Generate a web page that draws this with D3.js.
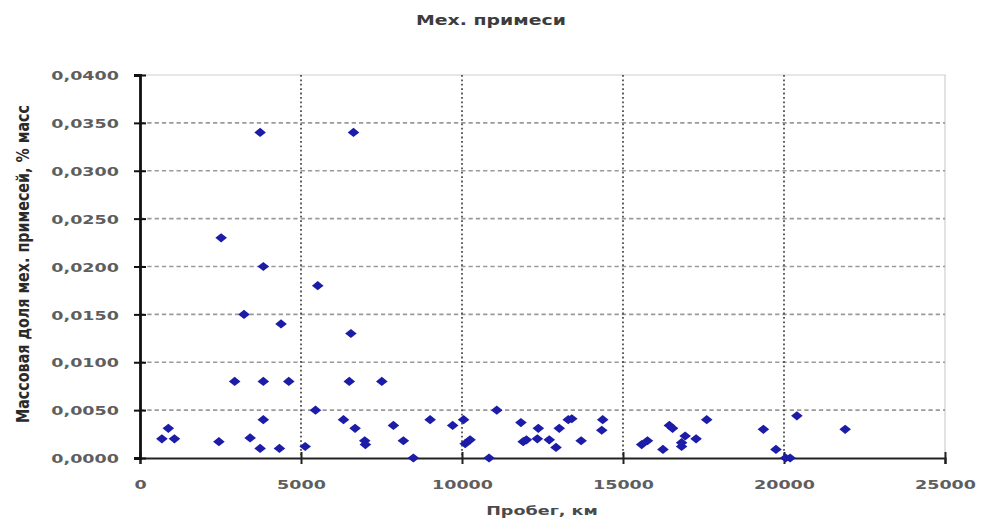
<!DOCTYPE html>
<html>
<head>
<meta charset="utf-8">
<script src="https://cdn.jsdelivr.net/npm/d3@7"></script>
<style>
  html, body { margin: 0; padding: 0; background: #fff; }
  svg { display: block; }
  text { font-family: "DejaVu Sans", Verdana, sans-serif; font-weight: bold; }
</style>
</head>
<body>
<svg id="chart" width="986" height="522"></svg>
<script>
// Пробег, км
const mileage = [
  680, 880, 1070, 2450, 2520, 2940, 3230, 3420, 3730, 3730,
  3830, 3830, 3830, 4330, 4380, 4620, 5130, 5450, 5520, 6320,
  6500, 6550, 6630, 6680, 6980, 7000, 7510, 7870, 8180, 8490,
  9010, 9710, 10050, 10100, 10250, 10840, 11080, 11830, 11900, 12000,
  12340, 12370, 12710, 12920, 13020, 13300, 13410, 13700, 14340, 14370,
  15580, 15760, 16240, 16440, 16540, 16820, 16820, 16930, 17270, 17600,
  19360, 19750, 20050, 20190, 20400, 21900
];
// Массовая доля мех. примесей, % масс
const impurity = [
  0.0020, 0.0031, 0.0020, 0.0017, 0.0230, 0.0080, 0.0150, 0.0021, 0.0340, 0.0010,
  0.0200, 0.0080, 0.0040, 0.0010, 0.0140, 0.0080, 0.0012, 0.0050, 0.0180, 0.0040,
  0.0080, 0.0130, 0.0340, 0.0031, 0.0018, 0.0014, 0.0080, 0.0034, 0.0018, 0.0000,
  0.0040, 0.0034, 0.0040, 0.0015, 0.0019, 0.0000, 0.0050, 0.0037, 0.0017, 0.0019,
  0.0020, 0.0031, 0.0019, 0.0011, 0.0031, 0.0040, 0.0041, 0.0018, 0.0029, 0.0040,
  0.0014, 0.0018, 0.0009, 0.0034, 0.0031, 0.0012, 0.0016, 0.0023, 0.0020, 0.0040,
  0.0030, 0.0009, 0.0000, 0.0000, 0.0044, 0.0030
];
const xTicks = [0, 5000, 10000, 15000, 20000, 25000];
const yTicks = [0, 0.005, 0.010, 0.015, 0.020, 0.025, 0.030, 0.035, 0.040];
const titleText = "Мех. примеси";
const xTitle = "Пробег, км";
const yTitle = "Массовая доля мех. примесей, % масс";

const svg = d3.select("#chart");
const SX = 1.35; // horizontal widening of the lettering

const x = d3.scaleLinear().domain([0, 25000]).range([140, 945]);
const y = d3.scaleLinear().domain([0, 0.04]).range([458, 75]);

// plot frame (top and right)
svg.append("path")
  .attr("d", `M${x(0)},${y(0.04)}H${x(25000)}V${y(0)}`)
  .attr("fill", "none").attr("stroke", "#cfcfcf").attr("stroke-width", 1.2);

// horizontal dashed grid
svg.append("g").selectAll("line")
  .data(yTicks.filter(v => v > 0 && v < 0.04))
  .join("line")
  .attr("x1", x(0)).attr("x2", x(25000))
  .attr("y1", d => y(d)).attr("y2", d => y(d))
  .attr("stroke", "#9a9a9a").attr("stroke-width", 1.6)
  .attr("stroke-dasharray", "4.3,3");

// vertical dotted grid
svg.append("g").selectAll("line")
  .data(xTicks.filter(v => v > 0 && v < 25000))
  .join("line")
  .attr("x1", d => x(d)).attr("x2", d => x(d))
  .attr("y1", y(0.04)).attr("y2", y(0))
  .attr("stroke", "#3a3a3a").attr("stroke-width", 1.6)
  .attr("stroke-dasharray", "1.8,2.6");

// x axis
const fmtX = d => String(d);
const gx = svg.append("g")
  .attr("transform", `translate(0,${y(0)})`)
  .call(d3.axisBottom(x).tickValues(xTicks).tickFormat(fmtX).tickSize(6).tickPadding(0));
gx.select(".domain").attr("stroke", "#222").attr("stroke-width", 2.2);
gx.selectAll(".tick line").attr("y1", -6).attr("y2", 6).attr("stroke", "#222").attr("stroke-width", 2);
gx.selectAll(".tick text")
  .attr("y", 0).attr("dy", null)
  .attr("transform", `translate(0,31) scale(${SX},1)`)
  .attr("font-size", 13).attr("fill", "#5e5e5e")
  .attr("font-family", "DejaVu Sans").attr("font-weight", "bold");

// y axis
const fmtY = d => d3.format(".4f")(d).replace(".", ",");
const gy = svg.append("g")
  .attr("transform", `translate(${x(0)},0)`)
  .call(d3.axisLeft(y).tickValues(yTicks).tickFormat(fmtY).tickSize(6).tickPadding(0));
gy.select(".domain").attr("stroke", "#111").attr("stroke-width", 2.8);
gy.selectAll(".tick line").attr("x1", -6).attr("x2", 6).attr("stroke", "#111").attr("stroke-width", 2);
gy.selectAll(".tick text")
  .attr("x", 0).attr("dy", "0.36em")
  .attr("transform", `translate(-21,0) scale(${SX},1)`)
  .attr("font-size", 13).attr("fill", "#5e5e5e")
  .attr("font-family", "DejaVu Sans").attr("font-weight", "bold");

// points
const diamond = "M0,-4.6L5.8,0L0,4.6L-5.8,0Z";
svg.append("g").selectAll("path")
  .data(mileage.map((m, i) => [m, impurity[i]]))
  .join("path")
  .attr("d", diamond)
  .attr("transform", d => `translate(${x(d[0])},${y(d[1])})`)
  .attr("fill", "#1c1ca8");

// titles
svg.append("text")
  .attr("transform", `translate(491,25) scale(${SX},1)`)
  .attr("text-anchor", "middle").attr("font-size", 14).attr("fill", "#3c3c3c")
  .text(titleText);

svg.append("text")
  .attr("transform", `translate(542,515) scale(${SX},1)`)
  .attr("text-anchor", "middle").attr("font-size", 13).attr("fill", "#4a4a4a")
  .text(xTitle);

svg.append("text")
  .attr("transform", `translate(29,264) scale(${SX},1) rotate(-90)`)
  .attr("text-anchor", "middle").attr("font-size", 12.5).attr("fill", "#2a2a2a")
  .attr("textLength", 318).attr("lengthAdjust", "spacingAndGlyphs")
  .text(yTitle);
</script>
</body>
</html>
